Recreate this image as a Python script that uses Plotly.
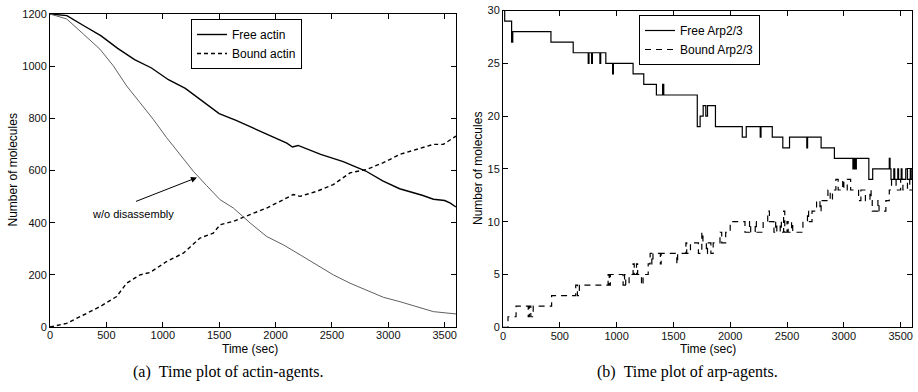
import plotly.graph_objects as go

# ---------------- (a) actin agents ----------------
actin_t = [0, 150, 300, 450, 600, 750, 900, 1050, 1200, 1350, 1500, 1650, 1800, 1950,
           2100, 2150, 2200, 2400, 2600, 2800, 2950, 3100, 3200, 3300, 3400, 3500, 3550, 3600]
free_actin = [1200, 1194, 1155, 1117, 1068, 1025, 993, 948, 915, 868, 818, 792, 764, 733,
              705, 690, 696, 662, 634, 598, 560, 530, 518, 505, 490, 485, 475, 460]

nodis_t = [0, 148, 296, 443, 562, 680, 798, 916, 1034, 1153, 1271, 1389, 1508, 1626, 1774,
           1921, 2069, 2217, 2365, 2512, 2660, 2808, 2956, 3103, 3251, 3399, 3600]
nodis_actin = [1200, 1181, 1123, 1065, 1001, 924, 860, 796, 726, 662, 597, 542, 488, 456, 399,
               347, 315, 277, 238, 200, 168, 142, 114, 97, 78, 59, 50]

bound_t = [0, 148, 296, 443, 591, 680, 798, 887, 1034, 1182, 1330, 1448, 1508, 1626, 1774,
           1921, 2069, 2157, 2217, 2365, 2512, 2660, 2808, 2956, 3103, 3251, 3399, 3487, 3600]
bound_actin = [0, 14, 46, 78, 117, 168, 200, 209, 251, 283, 341, 360, 392, 405, 431,
               456, 488, 508, 501, 520, 546, 591, 604, 630, 662, 681, 700, 700, 732]

# ---------------- (b) arp agents ----------------
free_arp_t = [0, 15, 76, 86, 422, 618, 750, 757, 780, 787, 853, 860, 905, 965, 972, 1145,
              1239, 1350, 1405, 1415, 1710, 1735, 1762, 1785, 1800, 1870, 2106, 2141, 2264,
              2271, 2370, 2463, 2522, 2674, 2681, 2800, 2917, 3080, 3090, 3100, 3110, 3220,
              3254, 3400, 3407, 3415, 3440, 3448, 3475, 3482, 3505, 3512, 3545, 3560, 3585,
              3593, 3600]
free_arp = [30, 29, 27, 28, 27, 26, 25, 26, 25, 26, 25, 26, 25, 24, 25, 24,
            23, 22, 23, 22, 19, 20, 21, 20, 21, 19, 18, 19, 18,
            19, 18, 17, 18, 17, 18, 17, 16, 15, 16, 15, 16, 14,
            15, 16, 15, 14, 15, 14, 15, 14, 15, 14, 15, 14, 15,
            14, 14]

bound_arp_t = [0, 44, 115, 222, 232, 245, 266, 428, 640, 655, 672, 925, 935, 945, 1057, 1070,
               1080, 1110, 1145, 1155, 1175, 1185, 1219, 1233, 1278, 1295, 1310, 1320, 1385,
               1392, 1530, 1537, 1610, 1617, 1650, 1720, 1750, 1760, 1790, 1800, 1830, 1850,
               1910, 1925, 1960, 2000, 2130, 2170, 2180, 2220, 2230, 2290, 2330, 2345, 2385,
               2400, 2410, 2440, 2450, 2470, 2480, 2500, 2510, 2540, 2550, 2640, 2680, 2690,
               2720, 2760, 2790, 2800, 2860, 2880, 2900, 2930, 2950, 2990, 3000, 3030, 3060,
               3130, 3150, 3190, 3230, 3240, 3250, 3300, 3310, 3370, 3400, 3420, 3460, 3500,
               3520, 3560, 3580, 3600]
bound_arp = [0, 1, 2, 1, 2, 1, 2, 3, 4, 3, 4, 5, 4, 5, 4, 5,
             4, 5, 6, 5, 6, 5, 4, 5, 6, 7, 6, 7, 6,
             7, 6, 7, 8, 7, 8, 7, 9, 8, 7, 8, 7, 8,
             9, 8, 9, 10, 9, 10, 9, 10, 9, 10, 11, 10, 9,
             10, 9, 10, 9, 11, 9, 10, 9, 10, 9, 10, 11, 10,
             11, 12, 11, 12, 13, 12, 13, 14, 13, 14, 13, 14, 13,
             12, 13, 12, 13, 12, 11, 12, 11, 12, 13, 14, 13, 14,
             13, 14, 13, 13]

x_ticks = [0, 500, 1000, 1500, 2000, 2500, 3000, 3500]
y_ticks_a = [0, 200, 400, 600, 800, 1000, 1200]
y_ticks_b = [0, 5, 10, 15, 20, 25, 30]

W, H = 918, 392
SANS = "Liberation Sans, Arial, Helvetica, sans-serif"
SERIF = "Liberation Serif, Times New Roman, serif"

fig = go.Figure()
fig.add_trace(go.Scatter(x=actin_t, y=free_actin, mode="lines", name="Free actin",
                         line=dict(color="black", width=1.4), xaxis="x", yaxis="y",
                         legend="legend"))
fig.add_trace(go.Scatter(x=bound_t, y=bound_actin, mode="lines", name="Bound actin",
                         line=dict(color="black", width=1.4, dash="4px,3px"),
                         xaxis="x", yaxis="y", legend="legend"))
fig.add_trace(go.Scatter(x=nodis_t, y=nodis_actin, mode="lines", name="w/o disassembly",
                         line=dict(color="#606060", width=1), xaxis="x", yaxis="y",
                         showlegend=False))
fig.add_trace(go.Scatter(x=free_arp_t, y=free_arp, mode="lines", name="Free Arp2/3",
                         line=dict(color="black", width=1.2, shape="hv"),
                         xaxis="x2", yaxis="y2", legend="legend2"))
fig.add_trace(go.Scatter(x=bound_arp_t, y=bound_arp, mode="lines", name="Bound Arp2/3",
                         line=dict(color="black", width=1.2, shape="hv", dash="6px,5px"),
                         xaxis="x2", yaxis="y2", legend="legend2"))

axis_common = dict(showline=True, linecolor="black", linewidth=1, mirror="allticks",
                   ticks="inside", ticklen=5, tickcolor="black", showgrid=False,
                   zeroline=False, automargin=False,
                   tickfont=dict(family=SANS, size=11, color="#111"))

fig.update_layout(
    width=W, height=H, margin=dict(l=0, r=0, t=0, b=0, autoexpand=False),
    paper_bgcolor="white", plot_bgcolor="white",
    xaxis=dict(domain=[50 / W, 456 / W], range=[0, 3600], tickvals=x_ticks, anchor="y",
               ticklabelstandoff=-2, **axis_common),
    yaxis=dict(domain=[(H - 327) / H, (H - 14) / H], range=[0, 1200], tickvals=y_ticks_a,
               anchor="x", **axis_common),
    xaxis2=dict(domain=[503 / W, 912 / W], range=[0, 3600], tickvals=x_ticks, anchor="y2",
                ticklabelstandoff=-2, **axis_common),
    yaxis2=dict(domain=[(H - 327.3) / H, (H - 10.5) / H], range=[0, 30], tickvals=y_ticks_b,
                anchor="x2", **axis_common),
    legend=dict(x=191 / W, y=1 - 19 / H, xanchor="left", yanchor="top",
                bordercolor="black", borderwidth=1, bgcolor="white",
                font=dict(family=SANS, size=12, color="black"), tracegroupgap=0),
    legend2=dict(x=639 / W, y=1 - 15 / H, xanchor="left", yanchor="top",
                 bordercolor="black", borderwidth=1, bgcolor="white",
                 font=dict(family=SANS, size=12, color="black"), tracegroupgap=0),
    showlegend=True,
)


def label(text, px, py, size=12, family=SANS, angle=0):
    return dict(text=text, x=px / W, y=1 - py / H, xref="paper", yref="paper",
                xanchor="center", yanchor="middle", showarrow=False, textangle=angle,
                borderpad=0, font=dict(family=family, size=size, color="black"))


ann = [
    label("Time (sec)", 250, 349),
    label("Time (sec)", 708, 349),
    label("Number of molecules", 12, 170.5, angle=-90),
    label("Number of molecules", 478, 169, angle=-90),
    label("(a)\u00a0\u00a0Time plot of actin-agents.", 228, 372, size=16, family=SERIF),
    label("(b)\u00a0\u00a0Time plot of arp-agents.", 687, 372, size=16, family=SERIF),
    dict(text="w/o disassembly", x=736, y=435, xref="x", yref="y", showarrow=False,
         xanchor="center", yanchor="middle",
         font=dict(family=SANS, size=11, color="black")),
    dict(text=" ", x=1303, y=573, ax=736, ay=477, xref="x", yref="y",
         axref="x", ayref="y", showarrow=True, arrowhead=2, arrowsize=1.2,
         arrowwidth=1, arrowcolor="black"),
]
fig.update_layout(annotations=ann)

fig.write_html("out.html", config={"displayModeBar": False},
               post_script="document.body.style.margin='0';")
